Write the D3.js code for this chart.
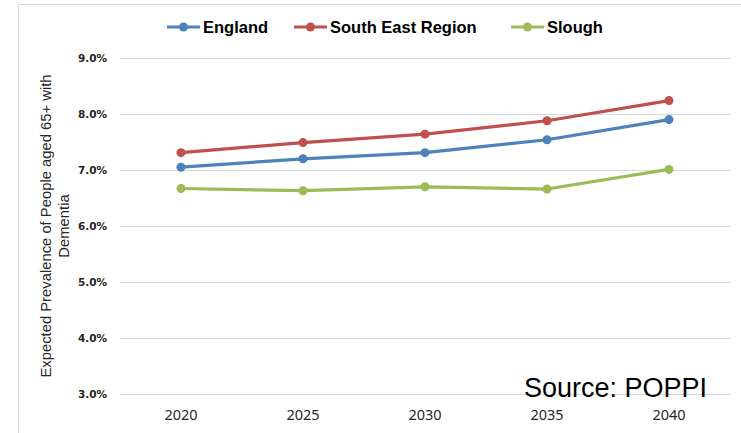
<!DOCTYPE html>
<html>
<head>
<meta charset="utf-8">
<script src="https://cdn.jsdelivr.net/npm/d3@7"></script>
<style>
  html, body { margin: 0; padding: 0; background: #fff; }
  svg { display: block; }
</style>
</head>
<body>
<svg id="chart" width="741" height="433"></svg>
<script>
const years = ["2020", "2025", "2030", "2035", "2040"];
const seriesNames = ["England", "South East Region", "Slough"];
const seriesColors = ["#4F81BD", "#C0504D", "#9BBB59"];
const england = [7.05, 7.20, 7.31, 7.54, 7.90];
const southEast = [7.31, 7.49, 7.64, 7.88, 8.24];
const slough = [6.67, 6.63, 6.70, 6.66, 7.01];
const yTicks = [3, 4, 5, 6, 7, 8, 9];
const yTitleLines = ["Expected Prevalence of People aged 65+ with", "Dementia"];
const sourceText = "Source: POPPI";

const allSeries = [england, southEast, slough];

const svg = d3.select("#chart");

// frame
svg.append("line").attr("x1", 18.5).attr("x2", 18.5).attr("y1", 4.5).attr("y2", 433)
  .attr("stroke", "#d9d9d9").attr("stroke-width", 1);
svg.append("line").attr("x1", 18).attr("x2", 741).attr("y1", 4.5).attr("y2", 4.5)
  .attr("stroke", "#d9d9d9").attr("stroke-width", 1);

const plot = { left: 120, right: 730, top: 58, bottom: 394 };

const x = d3.scaleBand().domain(years).range([plot.left, plot.right]).padding(0);
const y = d3.scaleLinear().domain([3, 9]).range([plot.bottom, plot.top]);

// gridlines
svg.append("g").selectAll("line").data(yTicks).join("line")
  .attr("x1", plot.left).attr("x2", plot.right)
  .attr("y1", d => Math.round(y(d)) + 0.5).attr("y2", d => Math.round(y(d)) + 0.5)
  .attr("stroke", "#d9d9d9").attr("stroke-width", 1);

// y axis labels
const yAxis = d3.axisLeft(y).tickValues(yTicks).tickFormat(d => d.toFixed(1) + "%").tickSize(0).tickPadding(13);
const yg = svg.append("g").attr("transform", `translate(${plot.left},0)`).call(yAxis);
yg.select(".domain").remove();
yg.selectAll("text").attr("font-family", "DejaVu Sans, Verdana, sans-serif")
  .attr("font-weight", "bold").attr("font-size", "10.5px").attr("fill", "#262626");

// x axis labels
const xAxis = d3.axisBottom(x).tickSize(0).tickPadding(16);
const xg = svg.append("g").attr("transform", `translate(0,${plot.bottom})`).call(xAxis);
xg.select(".domain").remove();
xg.selectAll("text").attr("font-family", "Noto Sans, Open Sans, sans-serif")
  .attr("font-size", "14.5px").attr("fill", "#262626");

// y title
const yTitle = svg.append("text")
  .attr("transform", `translate(51,226) rotate(-90)`)
  .attr("text-anchor", "middle")
  .attr("font-family", "Liberation Sans, Arial, sans-serif")
  .attr("font-size", "14.8px").attr("fill", "#262626");
yTitleLines.forEach((t, i) => {
  yTitle.append("tspan").attr("x", 0).attr("dy", i === 0 ? 0 : 18).text(t);
});

// lines
const cx = d => x(d) + x.bandwidth() / 2;
const line = d3.line().x((d, i) => cx(years[i])).y(d => y(d));

allSeries.forEach((vals, si) => {
  svg.append("path").datum(vals)
    .attr("d", line).attr("fill", "none")
    .attr("stroke", seriesColors[si]).attr("stroke-width", 3.2)
    .attr("stroke-linejoin", "round").attr("stroke-linecap", "round");
  svg.append("g").selectAll("circle").data(vals).join("circle")
    .attr("cx", (d, i) => cx(years[i])).attr("cy", d => y(d)).attr("r", 4.5)
    .attr("fill", seriesColors[si]);
});

// legend
const legendItems = [
  { x: 167, name: seriesNames[0], color: seriesColors[0] },
  { x: 294, name: seriesNames[1], color: seriesColors[1] },
  { x: 511, name: seriesNames[2], color: seriesColors[2] }
];
const lg = svg.append("g");
legendItems.forEach(it => {
  lg.append("line").attr("x1", it.x).attr("x2", it.x + 33).attr("y1", 27).attr("y2", 27)
    .attr("stroke", it.color).attr("stroke-width", 3.2);
  lg.append("circle").attr("cx", it.x + 16.5).attr("cy", 27).attr("r", 4.5).attr("fill", it.color);
  lg.append("text").attr("x", it.x + 36).attr("y", 33)
    .attr("font-family", "Liberation Sans, Arial, sans-serif").attr("font-weight", "bold")
    .attr("font-size", "16.5px").attr("fill", "#000").text(it.name);
});

// source
svg.append("text").attr("x", 524).attr("y", 397)
  .attr("font-family", "Liberation Sans, Arial, sans-serif")
  .attr("font-size", "27px").attr("fill", "#000").text(sourceText);
</script>
</body>
</html>
